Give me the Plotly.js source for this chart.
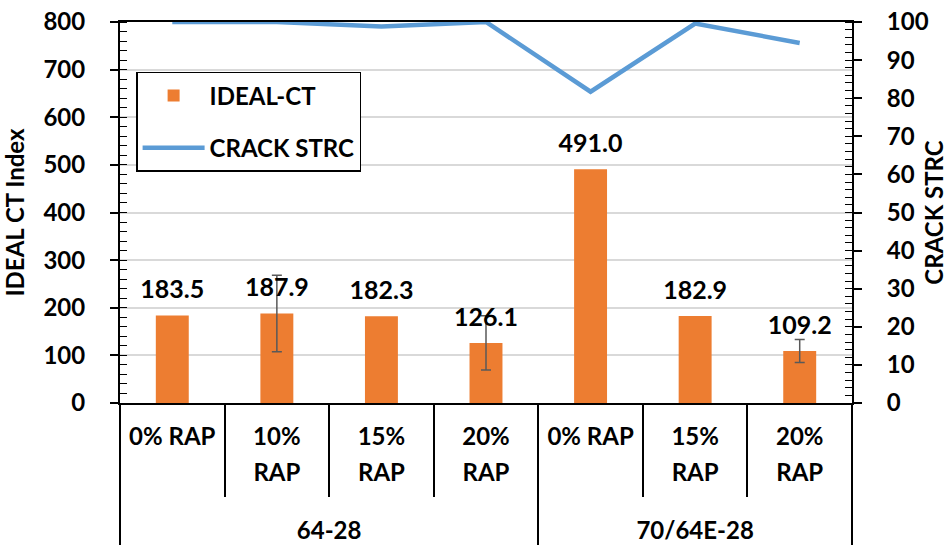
<!DOCTYPE html>
<html>
<head>
<meta charset="utf-8">
<script src="https://cdn.plot.ly/plotly-3.0.1.min.js"></script>
<style>
  body { margin: 0; background: #fff; }
  #myDiv { width: 948px; height: 551px; }
</style>
</head>
<body>
<div id="myDiv"></div>
<script>
var binders = ['64-28', '64-28', '64-28', '64-28', '70/64E-28', '70/64E-28', '70/64E-28'];
var mixes = ['0% RAP', '10%<br>RAP', '15%<br>RAP', '20%<br>RAP', '0% RAP', '15%<br>RAP', '20%<br>RAP'];
var idealCT = [183.5, 187.9, 182.3, 126.1, 491.0, 182.9, 109.2];
var idealErr = [NaN, 80.5, NaN, 57, NaN, NaN, 24];
var crackStrc = [100, 100, 98.8, 100, 81.7, 99.6, 94.5];

// tick labels: font size 27 sets the line spacing, the span keeps the glyphs at 24px
function small(s) { return '<span style="font-size:24px">' + s + '</span>'; }
var xOuter = binders.map(function (b) { return '<br>' + small(b); });
var xInner = mixes.map(function (m) { return m.split('<br>').map(small).join('<br>'); });

var trace1 = {
  x: [xOuter, xInner],
  y: idealCT,
  name: 'IDEAL-CT',
  legendgroup: 'a',
  type: 'bar',
  marker: {color: '#ed7d31'},
  error_y: {type: 'data', array: idealErr, visible: true, color: '#595959', thickness: 1.5, width: 5},
  hoverinfo: 'y'
};

// value labels, pushed up by an invisible marker
var trace1Labels = {
  x: [xOuter, xInner],
  y: idealCT,
  type: 'scatter',
  mode: 'markers+text',
  text: idealCT.map(function (v) { return v.toFixed(1); }),
  textposition: 'top center',
  textfont: {size: 25, weight: 'bold', color: '#000'},
  marker: {size: 16, opacity: 0},
  showlegend: false,
  hoverinfo: 'skip'
};

var trace2 = {
  x: [xOuter, xInner],
  y: crackStrc,
  name: 'CRACK STRC',
  legendgroup: 'b',
  type: 'scatter',
  mode: 'lines',
  yaxis: 'y2',
  line: {color: '#5b9bd5', width: 4.5},
  hoverinfo: 'y'
};

var data = [trace1, trace1Labels, trace2];

var layout = {
  width: 948,
  height: 551,
  margin: {l: 120, r: 96, t: 22, b: 148},
  paper_bgcolor: '#fff',
  plot_bgcolor: '#fff',
  font: {family: 'Lato, sans-serif', size: 24, color: '#000', weight: 'bold'},
  bargap: 0.685,
  showlegend: true,
  legend: {
    x: 0.022, y: 0.869, xanchor: 'left', yanchor: 'top',
    bordercolor: '#000', borderwidth: 1.5, bgcolor: '#fff',
    font: {size: 24, weight: 'bold'},
    traceorder: 'grouped',
    tracegroupgap: 18,
    itemwidth: 62
  },
  xaxis: {
    type: 'multicategory',
    showline: true, linecolor: '#000', linewidth: 2, mirror: true,
    ticks: 'outside', tickson: 'boundaries', ticklen: 92, tickcolor: '#000', tickwidth: 1.5,
    showdividers: true, dividercolor: '#000', dividerwidth: 1.5,
    tickfont: {size: 27, weight: 'bold'},
    ticklabelstandoff: 8,
    showgrid: false
  },
  yaxis: {
    range: [0, 800], dtick: 100,
    showline: true, linecolor: '#000', linewidth: 2,
    ticks: 'outside', ticklen: 8, tickcolor: '#000', tickwidth: 1.5,
    minor: {dtick: 20, ticks: 'inside', ticklen: 7, tickcolor: '#000', tickwidth: 1.2, showgrid: false},
    showgrid: true, gridcolor: '#d9d9d9', gridwidth: 1.5,
    ticklabelstandoff: 20,
    tickfont: {size: 24, weight: 'bold'},
    title: {text: 'IDEAL CT Index', font: {size: 24, weight: 'bold'}, standoff: 18},
    zeroline: false
  },
  yaxis2: {
    range: [0, 100], dtick: 10,
    overlaying: 'y', side: 'right',
    showline: true, linecolor: '#000', linewidth: 2,
    ticks: 'outside', ticklen: 8, tickcolor: '#000', tickwidth: 1.5,
    minor: {dtick: 2, ticks: 'inside', ticklen: 7, tickcolor: '#000', tickwidth: 1.2, showgrid: false},
    showgrid: false,
    ticklabelstandoff: 20,
    tickfont: {size: 24, weight: 'bold'},
    title: {text: 'CRACK STRC', font: {size: 24, weight: 'bold'}, standoff: 10},
    zeroline: false
  }
};

Plotly.newPlot('myDiv', data, layout, {displayModeBar: false});
</script>
</body>
</html>
